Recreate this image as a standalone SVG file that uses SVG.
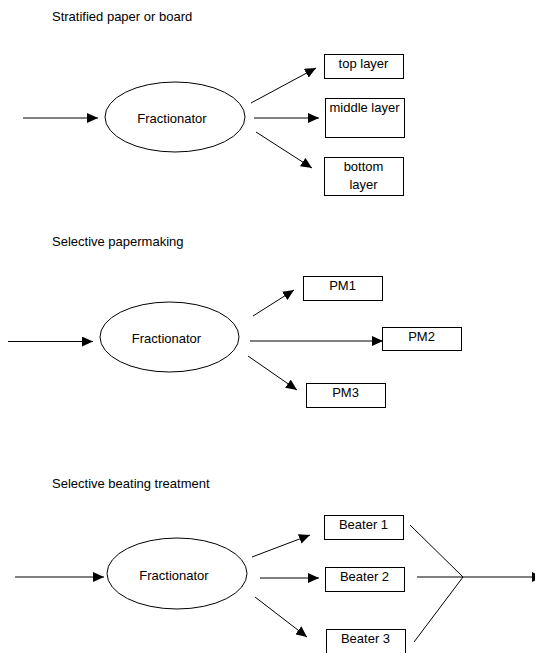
<svg xmlns="http://www.w3.org/2000/svg" width="535" height="653" viewBox="0 0 535 653">
<style>
text{font-family:"Liberation Sans",Arial,sans-serif;font-size:13px;fill:#000}
.c{text-anchor:middle}
.n{fill:#fff;stroke:#000;stroke-width:1}
.e{stroke:#000;stroke-width:1;fill:none}
.a{marker-end:url(#ah)}
</style>
<defs>
<marker id="ah" markerUnits="userSpaceOnUse" markerWidth="11" markerHeight="10" refX="10" refY="4.5" orient="auto" viewBox="0 0 10 9">
<path d="M0,0 L10,4.5 L0,9 z" fill="#000"/>
</marker>
</defs>
<rect width="535" height="653" fill="#fff"/>
<text x="52" y="21">Stratified paper or board</text>
<text x="52" y="246">Selective papermaking</text>
<text x="52" y="487.5">Selective beating treatment</text>
<g id="connectors">
<line class="e a" x1="23" y1="118" x2="98" y2="118"/>
<line class="e a" x1="251" y1="103" x2="316" y2="68"/>
<line class="e a" x1="254" y1="118" x2="319" y2="118"/>
<line class="e a" x1="256" y1="132" x2="312" y2="168"/>
<line class="e a" x1="8" y1="341.5" x2="93" y2="341.5"/>
<line class="e a" x1="253" y1="316" x2="294" y2="290"/>
<line class="e a" x1="250" y1="341" x2="383" y2="341"/>
<line class="e a" x1="248" y1="356" x2="297" y2="390"/>
<line class="e a" x1="15" y1="577" x2="104" y2="577"/>
<line class="e a" x1="252" y1="557" x2="310" y2="535"/>
<line class="e a" x1="260" y1="578" x2="319" y2="578"/>
<line class="e a" x1="255" y1="597" x2="307" y2="637"/>
<line class="e" x1="410" y1="525" x2="463" y2="577"/>
<line class="e" x1="417" y1="577" x2="463" y2="577"/>
<line class="e" x1="414" y1="642" x2="463" y2="577"/>
<line class="e a" x1="463" y1="577" x2="543" y2="577"/>
</g>
<g id="frac1"><ellipse class="n" cx="175" cy="117" rx="70" ry="35"/><text x="172" y="122.5" class="c">Fractionator</text></g>
<g id="top"><rect class="n" x="324.5" y="54.5" width="79" height="24"/><text x="363.5" y="67.5" class="c">top layer</text></g>
<g id="middle"><rect class="n" x="325.5" y="98.5" width="79" height="39"/><text x="364.5" y="112" class="c">middle layer</text></g>
<g id="bottom"><rect class="n" x="324.5" y="157.5" width="79" height="38"/><text x="363.5" y="171" class="c">bottom</text><text x="363.5" y="189" class="c">layer</text></g>
<g id="frac2"><ellipse class="n" cx="169.5" cy="337" rx="69.5" ry="35"/><text x="166.5" y="342.5" class="c">Fractionator</text></g>
<g id="pm1"><rect class="n" x="303.5" y="276.5" width="79" height="24"/><text x="342.5" y="289.5" class="c">PM1</text></g>
<g id="pm2"><rect class="n" x="382.5" y="327.5" width="79" height="23"/><text x="421.5" y="341" class="c">PM2</text></g>
<g id="pm3"><rect class="n" x="306.5" y="383.5" width="79" height="24"/><text x="345.5" y="397" class="c">PM3</text></g>
<g id="frac3"><ellipse class="n" cx="177" cy="573.5" rx="70" ry="35.5"/><text x="174" y="579.5" class="c">Fractionator</text></g>
<g id="beater1"><rect class="n" x="324.5" y="515.5" width="79" height="24"/><text x="363.5" y="528.7" class="c">Beater 1</text></g>
<g id="beater2"><rect class="n" x="325.5" y="567.5" width="79" height="24"/><text x="364.5" y="580.5" class="c">Beater 2</text></g>
<g id="beater3"><rect class="n" x="326.5" y="629.5" width="79" height="26"/><text x="365.5" y="642.7" class="c">Beater 3</text></g>
</svg>
